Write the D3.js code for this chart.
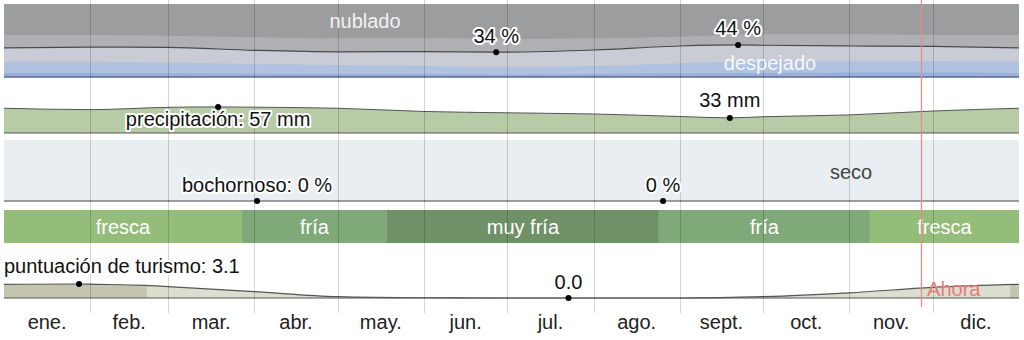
<!DOCTYPE html>
<html lang="es">
<head>
<meta charset="utf-8">
<script src="https://cdn.jsdelivr.net/npm/d3@7/dist/d3.min.js"></script>
<style>
  html, body { margin: 0; padding: 0; background: #fff; }
  svg { display: block; font-family: "Liberation Sans", Arial, Helvetica, sans-serif; }
  .halo { paint-order: stroke; stroke: #fff; stroke-width: 4px; stroke-linejoin: round; }
</style>
</head>
<body>
<svg id="chart" width="1024" height="340"></svg>
<script>
// Month boundaries (day of year) and labels
const monthStarts = [0, 31, 59, 90, 120, 151, 181, 212, 243, 273, 304, 334, 365];
const monthLabels = ["ene.", "feb.", "mar.", "abr.", "may.", "jun.", "jul.", "ago.", "sept.", "oct.", "nov.", "dic."];

// Cloud cover: cumulative % of time (from the clear side) at each month boundary
const cloudClearTop        = [5.5, 5.5, 5, 4.5, 4, 4, 3.5, 4, 5, 5.5, 6, 6, 5.5];
const cloudMostlyClearTop  = [21, 21, 20, 17.8, 16.4, 15, 14, 15, 19, 22, 22.3, 22, 21];
const cloudMostlyCloudyTop = [57.5, 57.5, 56.6, 54.4, 53, 53, 52, 53, 55.2, 58.5, 58.5, 57.5, 57.5];
// % clear, mostly clear or partly cloudy
const cloudLineDays   = [0, 31, 59, 90, 120, 151, 177, 212, 243, 264, 273, 304, 334, 365];
const cloudLineValues = [40, 41, 40.5, 36.5, 34.5, 34.8, 34, 37, 42.5, 44, 43.5, 42.5, 42, 40];

// Precipitation (mm)
const precipDays   = [0, 31, 59, 77, 90, 120, 151, 181, 212, 243, 261, 273, 304, 334, 365];
const precipValues = [54, 51, 56, 57, 56.3, 54, 47, 44, 41.5, 36, 33, 35.5, 39.5, 48, 54];

// Muggy days (%)
const muggyDays   = [0, 91, 237, 365];
const muggyValues = [0, 0, 0, 0];

// Perceived temperature categories
const tempStart  = [0, 85.6, 137.7, 235.5, 311.4];
const tempEnd    = [85.6, 137.7, 235.5, 311.4, 365];
const tempLabels = ["fresca", "fría", "muy fría", "fría", "fresca"];

// Tourism score
const tourismDays   = [0, 27, 31, 51, 59, 90, 120, 151, 181, 203, 212, 243, 273, 304, 334, 365];
const tourismValues = [3.0, 3.1, 3.05, 2.8, 2.5, 1.4, 0.3, 0.05, 0, 0, 0, 0, 0.3, 1.15, 2.35, 3.0];
const tourismShadeStart = [0, 51.4, 361.7];
const tourismShadeEnd   = [51.4, 361.7, 365];
const tourismShadeLevel = ["alta", "baja", "alta"];

// Current date marker
const nowDay = 329.8;

const svg = d3.select("#chart");
const x = d3.scaleLinear().domain([0, 365]).range([4, 1019]);

const yCloud   = d3.scaleLinear().domain([0, 100]).range([77, 4]);
const yPrecip  = d3.scaleLinear().domain([0, 72]).range([133, 100]);
const yMuggy   = d3.scaleLinear().domain([0, 100]).range([201, 140]);
const yTourism = d3.scaleLinear().domain([0, 10]).range([298, 252.8]);

const tempColor = d3.scaleOrdinal()
  .domain(["fresca", "fría", "muy fría"])
  .range(["#95bd7a", "#80a97a", "#6f9168"]);
const tourismColor = d3.scaleOrdinal()
  .domain(["alta", "baja"])
  .range(["#c4c5b1", "#dcdecf"]);

const pairs = (days, vals) => days.map((d, i) => [d, vals[i]]);

function areaTo(yScale, base) {
  return d3.area().x(d => x(d[0])).y0(yScale(base)).y1(d => yScale(d[1])).curve(d3.curveMonotoneX);
}
function lineOf(yScale) {
  return d3.line().x(d => x(d[0])).y(d => yScale(d[1])).curve(d3.curveMonotoneX);
}

function label(text, px, py, anchor, cls) {
  return svg.append("text")
    .attr("x", px).attr("y", py)
    .attr("text-anchor", anchor || "middle")
    .attr("font-size", 20)
    .attr("class", cls || "halo")
    .attr("fill", "#111")
    .text(text);
}
function dot(px, py) {
  svg.append("circle").attr("cx", px).attr("cy", py).attr("r", 3).attr("fill", "#000");
}

// ---- Cloud cover band ----
const gCloud = svg.append("g");
gCloud.append("rect")
  .attr("x", x(0)).attr("y", yCloud(100))
  .attr("width", x(365) - x(0)).attr("height", yCloud(0) - yCloud(100))
  .attr("fill", "#9c9d9f");
gCloud.append("path").datum(pairs(monthStarts, cloudMostlyCloudyTop))
  .attr("d", areaTo(yCloud, 0)).attr("fill", "#aeb0b4");
gCloud.append("path").datum(pairs(cloudLineDays, cloudLineValues))
  .attr("d", areaTo(yCloud, 0)).attr("fill", "#c9ccd5");
gCloud.append("path").datum(pairs(monthStarts, cloudMostlyClearTop))
  .attr("d", areaTo(yCloud, 0)).attr("fill", "#b1c2e0");
gCloud.append("path").datum(pairs(monthStarts, cloudClearTop))
  .attr("d", areaTo(yCloud, 0)).attr("fill", "#98b0dc");
gCloud.append("path").datum(pairs(cloudLineDays, cloudLineValues))
  .attr("d", lineOf(yCloud)).attr("fill", "none").attr("stroke", "#4a4a4a").attr("stroke-width", 1.2);
gCloud.append("line")
  .attr("x1", x(0)).attr("x2", x(365)).attr("y1", yCloud(0)).attr("y2", yCloud(0))
  .attr("stroke", "#5b6a88").attr("stroke-width", 1.5);

// ---- Precipitation band ----
svg.append("path").datum(pairs(precipDays, precipValues))
  .attr("d", areaTo(yPrecip, 0)).attr("fill", "#b6cba6");
svg.append("path").datum(pairs(precipDays, precipValues))
  .attr("d", lineOf(yPrecip)).attr("fill", "none").attr("stroke", "#555").attr("stroke-width", 1);
svg.append("line")
  .attr("x1", x(0)).attr("x2", x(365)).attr("y1", yPrecip(0)).attr("y2", yPrecip(0))
  .attr("stroke", "#555").attr("stroke-width", 1);

// ---- Muggy band ----
svg.append("rect")
  .attr("x", x(0)).attr("y", yMuggy(100))
  .attr("width", x(365) - x(0)).attr("height", yMuggy(0) - yMuggy(100))
  .attr("fill", "#e8eef1");
svg.append("path").datum(pairs(muggyDays, muggyValues))
  .attr("d", lineOf(yMuggy)).attr("fill", "none").attr("stroke", "#444").attr("stroke-width", 1.2);

// ---- Temperature band ----
const gTemp = svg.append("g");
tempLabels.forEach((t, i) => {
  gTemp.append("rect")
    .attr("x", x(tempStart[i])).attr("y", 210)
    .attr("width", x(tempEnd[i]) - x(tempStart[i])).attr("height", 33)
    .attr("fill", tempColor(t));
  gTemp.append("text")
    .attr("x", (x(tempStart[i]) + x(tempEnd[i])) / 2).attr("y", 233.5)
    .attr("text-anchor", "middle").attr("font-size", 20).attr("fill", "#fff")
    .text(t);
});

// ---- Tourism band ----
const tourismData = pairs(tourismDays, tourismValues);
svg.append("clipPath").attr("id", "tourismClip")
  .append("path").datum(tourismData).attr("d", areaTo(yTourism, 0));
const gTour = svg.append("g").attr("clip-path", "url(#tourismClip)");
tourismShadeLevel.forEach((lvl, i) => {
  gTour.append("rect")
    .attr("x", x(tourismShadeStart[i])).attr("y", yTourism(10))
    .attr("width", x(tourismShadeEnd[i]) - x(tourismShadeStart[i]))
    .attr("height", yTourism(0) - yTourism(10))
    .attr("fill", tourismColor(lvl));
});
svg.append("path").datum(tourismData)
  .attr("d", lineOf(yTourism)).attr("fill", "none").attr("stroke", "#555").attr("stroke-width", 1.2);
svg.append("line")
  .attr("x1", x(0)).attr("x2", x(365)).attr("y1", yTourism(0)).attr("y2", yTourism(0))
  .attr("stroke", "#555").attr("stroke-width", 1);

// ---- Month grid ----
svg.append("g").selectAll("line")
  .data(monthStarts.slice(1, 12))
  .join("line")
  .attr("x1", d => Math.round(x(d)) + 0.5).attr("x2", d => Math.round(x(d)) + 0.5)
  .attr("y1", 0).attr("y2", 313)
  .attr("stroke", "rgba(0,0,0,0.17)").attr("stroke-width", 1);

// Month labels
svg.append("g").selectAll("text")
  .data(monthLabels)
  .join("text")
  .attr("x", (d, i) => (x(monthStarts[i]) + x(monthStarts[i + 1])) / 2)
  .attr("y", 328.5)
  .attr("text-anchor", "middle").attr("font-size", 20).attr("fill", "#222")
  .text(d => d);

// ---- Current date marker ----
svg.append("line")
  .attr("x1", Math.round(x(nowDay)) + 0.5).attr("x2", Math.round(x(nowDay)) + 0.5)
  .attr("y1", 0).attr("y2", 307)
  .attr("stroke", "#ec8a8a").attr("stroke-width", 1.3);
svg.append("text")
  .attr("x", x(nowDay) + 6).attr("y", 295.5)
  .attr("font-size", 20).attr("fill", "#e67c7c")
  .text("Ahora");

// ---- Band captions ----
svg.append("text").attr("x", 365).attr("y", 27.5).attr("text-anchor", "middle")
  .attr("font-size", 20).attr("fill", "#f2f2f2").text("nublado");
svg.append("text").attr("x", 770).attr("y", 69.5).attr("text-anchor", "middle")
  .attr("font-size", 20).attr("fill", "#fff").attr("fill-opacity", 0.9).text("despejado");
svg.append("text").attr("x", 851).attr("y", 179).attr("text-anchor", "middle")
  .attr("font-size", 20).attr("fill", "#444").text("seco");

// ---- Annotated extremes ----
const cMin = 6, cMax = 9;
dot(x(cloudLineDays[cMin]), yCloud(cloudLineValues[cMin]));
label(`${cloudLineValues[cMin]} %`, x(cloudLineDays[cMin]), yCloud(cloudLineValues[cMin]) - 9);
dot(x(cloudLineDays[cMax]), yCloud(cloudLineValues[cMax]));
label(`${cloudLineValues[cMax]} %`, x(cloudLineDays[cMax]), yCloud(cloudLineValues[cMax]) - 9.5);

const pMax = 3, pMin = 10;
dot(x(precipDays[pMax]), yPrecip(precipValues[pMax]));
label(`precipitación: ${precipValues[pMax]} mm`, x(precipDays[pMax]), yPrecip(precipValues[pMax]) + 19.5);
dot(x(precipDays[pMin]), yPrecip(precipValues[pMin]));
label(`${precipValues[pMin]} mm`, x(precipDays[pMin]), yPrecip(precipValues[pMin]) - 11);

dot(x(muggyDays[1]), yMuggy(muggyValues[1]));
label(`bochornoso: ${muggyValues[1]} %`, x(muggyDays[1]), yMuggy(muggyValues[1]) - 9.5);
dot(x(muggyDays[2]), yMuggy(muggyValues[2]));
label(`${muggyValues[2]} %`, x(muggyDays[2]), yMuggy(muggyValues[2]) - 9.5);

const tMax = 1, tMin = 9;
dot(x(tourismDays[tMax]), yTourism(tourismValues[tMax]));
label(`puntuación de turismo: ${tourismValues[tMax].toFixed(1)}`, x(0), 273.3, "start");
dot(x(tourismDays[tMin]), yTourism(tourismValues[tMin]));
label(tourismValues[tMin].toFixed(1), x(tourismDays[tMin]), yTourism(tourismValues[tMin]) - 9);
</script>
</body>
</html>
